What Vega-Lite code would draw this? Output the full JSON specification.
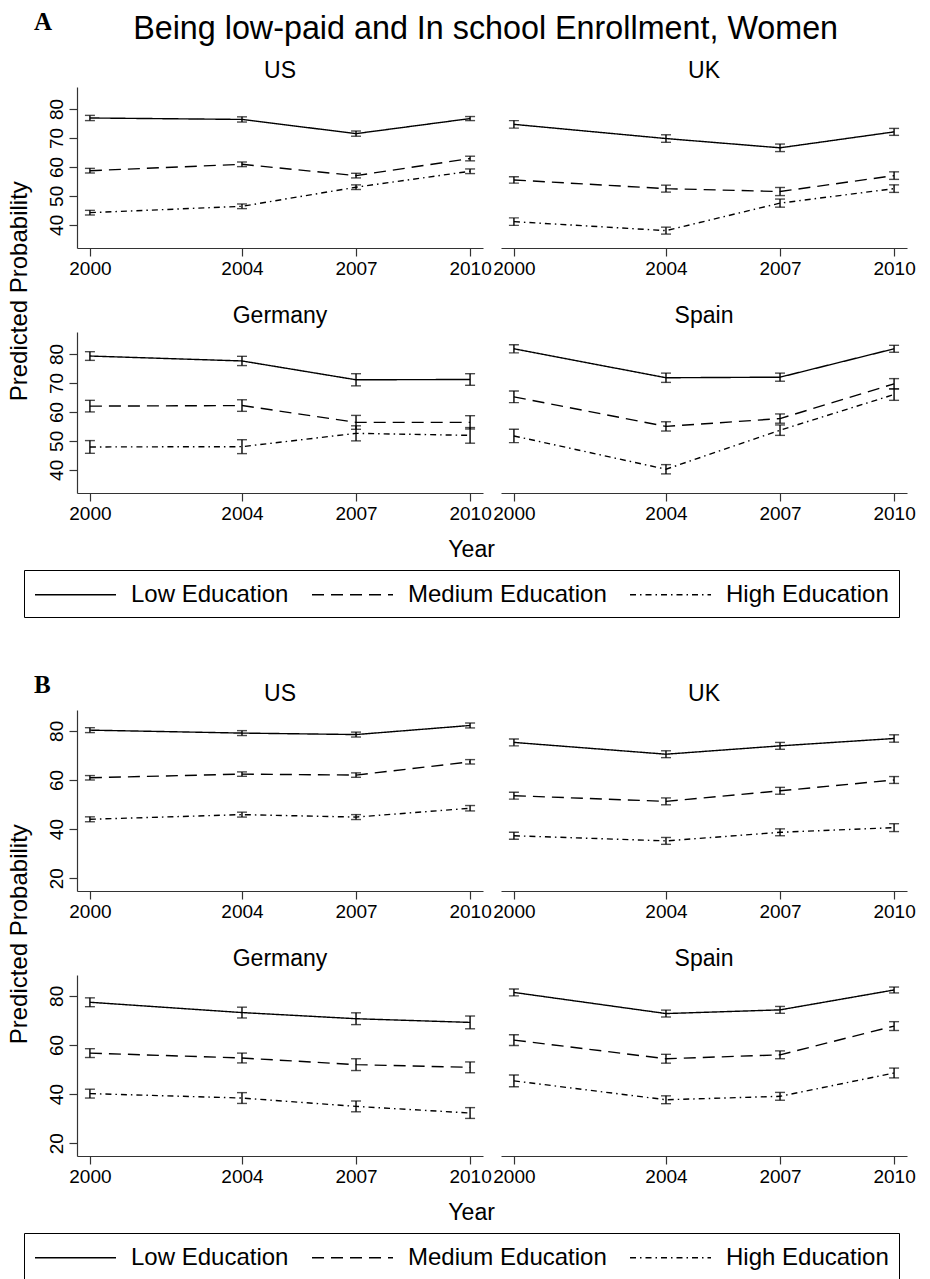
{
"$schema": "https://vega.github.io/schema/vega-lite/v6.json",
"background": "white",
"padding": {"left": 7, "right": 5, "top": 10, "bottom": 0},
"title": {"text": "A", "anchor": "start", "orient": "top", "offset": -22, "dx": 26, "font": "Liberation Serif", "fontSize": 25, "fontWeight": "bold", "color": "black"},
"data": {"name": "d"},
"datasets": {"d": [
{"p":"A","c":"US","e":"Low Education","yr":2000,"v":76.9,"lo":76.0,"hi":77.8},
{"p":"A","c":"US","e":"Low Education","yr":2004,"v":76.4,"lo":75.5,"hi":77.3},
{"p":"A","c":"US","e":"Low Education","yr":2007,"v":71.5,"lo":70.6,"hi":72.4},
{"p":"A","c":"US","e":"Low Education","yr":2010,"v":76.7,"lo":76.0,"hi":77.4},
{"p":"A","c":"US","e":"Medium Education","yr":2000,"v":58.7,"lo":57.9,"hi":59.5},
{"p":"A","c":"US","e":"Medium Education","yr":2004,"v":60.9,"lo":60.1,"hi":61.7},
{"p":"A","c":"US","e":"Medium Education","yr":2007,"v":57.0,"lo":56.2,"hi":57.8},
{"p":"A","c":"US","e":"Medium Education","yr":2010,"v":62.9,"lo":62.1,"hi":63.7},
{"p":"A","c":"US","e":"High Education","yr":2000,"v":44.2,"lo":43.4,"hi":45.0},
{"p":"A","c":"US","e":"High Education","yr":2004,"v":46.4,"lo":45.6,"hi":47.2},
{"p":"A","c":"US","e":"High Education","yr":2007,"v":53.0,"lo":52.2,"hi":53.8},
{"p":"A","c":"US","e":"High Education","yr":2010,"v":58.5,"lo":57.7,"hi":59.3},
{"p":"A","c":"UK","e":"Low Education","yr":2000,"v":74.7,"lo":73.4,"hi":76.0},
{"p":"A","c":"UK","e":"Low Education","yr":2004,"v":69.8,"lo":68.5,"hi":71.1},
{"p":"A","c":"UK","e":"Low Education","yr":2007,"v":66.6,"lo":65.3,"hi":67.9},
{"p":"A","c":"UK","e":"Low Education","yr":2010,"v":72.1,"lo":70.9,"hi":73.3},
{"p":"A","c":"UK","e":"Medium Education","yr":2000,"v":55.5,"lo":54.4,"hi":56.6},
{"p":"A","c":"UK","e":"Medium Education","yr":2004,"v":52.5,"lo":51.3,"hi":53.7},
{"p":"A","c":"UK","e":"Medium Education","yr":2007,"v":51.5,"lo":50.1,"hi":52.9},
{"p":"A","c":"UK","e":"Medium Education","yr":2010,"v":57.0,"lo":55.7,"hi":58.3},
{"p":"A","c":"UK","e":"High Education","yr":2000,"v":41.1,"lo":39.8,"hi":42.4},
{"p":"A","c":"UK","e":"High Education","yr":2004,"v":38.0,"lo":36.8,"hi":39.2},
{"p":"A","c":"UK","e":"High Education","yr":2007,"v":47.5,"lo":46.1,"hi":48.9},
{"p":"A","c":"UK","e":"High Education","yr":2010,"v":52.5,"lo":51.2,"hi":53.8},
{"p":"A","c":"Germany","e":"Low Education","yr":2000,"v":79.3,"lo":77.8,"hi":80.8},
{"p":"A","c":"Germany","e":"Low Education","yr":2004,"v":77.6,"lo":76.0,"hi":79.2},
{"p":"A","c":"Germany","e":"Low Education","yr":2007,"v":71.1,"lo":69.0,"hi":73.2},
{"p":"A","c":"Germany","e":"Low Education","yr":2010,"v":71.2,"lo":69.2,"hi":73.2},
{"p":"A","c":"Germany","e":"Medium Education","yr":2000,"v":62.0,"lo":60.0,"hi":64.0},
{"p":"A","c":"Germany","e":"Medium Education","yr":2004,"v":62.2,"lo":60.2,"hi":64.2},
{"p":"A","c":"Germany","e":"Medium Education","yr":2007,"v":56.4,"lo":54.0,"hi":58.8},
{"p":"A","c":"Germany","e":"Medium Education","yr":2010,"v":56.4,"lo":54.1,"hi":58.7},
{"p":"A","c":"Germany","e":"High Education","yr":2000,"v":47.9,"lo":45.7,"hi":50.1},
{"p":"A","c":"Germany","e":"High Education","yr":2004,"v":48.0,"lo":45.6,"hi":50.4},
{"p":"A","c":"Germany","e":"High Education","yr":2007,"v":52.6,"lo":50.0,"hi":55.2},
{"p":"A","c":"Germany","e":"High Education","yr":2010,"v":51.9,"lo":49.2,"hi":54.6},
{"p":"A","c":"Spain","e":"Low Education","yr":2000,"v":81.8,"lo":80.4,"hi":83.2},
{"p":"A","c":"Spain","e":"Low Education","yr":2004,"v":71.8,"lo":70.2,"hi":73.4},
{"p":"A","c":"Spain","e":"Low Education","yr":2007,"v":72.0,"lo":70.6,"hi":73.4},
{"p":"A","c":"Spain","e":"Low Education","yr":2010,"v":81.8,"lo":80.6,"hi":83.0},
{"p":"A","c":"Spain","e":"Medium Education","yr":2000,"v":65.2,"lo":63.2,"hi":67.2},
{"p":"A","c":"Spain","e":"Medium Education","yr":2004,"v":55.0,"lo":53.4,"hi":56.6},
{"p":"A","c":"Spain","e":"Medium Education","yr":2007,"v":57.7,"lo":56.1,"hi":59.3},
{"p":"A","c":"Spain","e":"Medium Education","yr":2010,"v":69.7,"lo":67.9,"hi":71.5},
{"p":"A","c":"Spain","e":"High Education","yr":2000,"v":51.7,"lo":49.4,"hi":54.0},
{"p":"A","c":"Spain","e":"High Education","yr":2004,"v":40.2,"lo":38.6,"hi":41.8},
{"p":"A","c":"Spain","e":"High Education","yr":2007,"v":53.7,"lo":51.9,"hi":55.5},
{"p":"A","c":"Spain","e":"High Education","yr":2010,"v":66.0,"lo":64.0,"hi":68.0},
{"p":"B","c":"US","e":"Low Education","yr":2000,"v":80.3,"lo":79.3,"hi":81.3},
{"p":"B","c":"US","e":"Low Education","yr":2004,"v":79.1,"lo":78.1,"hi":80.1},
{"p":"B","c":"US","e":"Low Education","yr":2007,"v":78.5,"lo":77.5,"hi":79.5},
{"p":"B","c":"US","e":"Low Education","yr":2010,"v":82.2,"lo":81.2,"hi":83.2},
{"p":"B","c":"US","e":"Medium Education","yr":2000,"v":60.9,"lo":60.0,"hi":61.8},
{"p":"B","c":"US","e":"Medium Education","yr":2004,"v":62.4,"lo":61.5,"hi":63.3},
{"p":"B","c":"US","e":"Medium Education","yr":2007,"v":62.0,"lo":61.1,"hi":62.9},
{"p":"B","c":"US","e":"Medium Education","yr":2010,"v":67.4,"lo":66.5,"hi":68.3},
{"p":"B","c":"US","e":"High Education","yr":2000,"v":44.0,"lo":43.0,"hi":45.0},
{"p":"B","c":"US","e":"High Education","yr":2004,"v":45.9,"lo":44.9,"hi":46.9},
{"p":"B","c":"US","e":"High Education","yr":2007,"v":44.9,"lo":43.9,"hi":45.9},
{"p":"B","c":"US","e":"High Education","yr":2010,"v":48.5,"lo":47.4,"hi":49.6},
{"p":"B","c":"UK","e":"Low Education","yr":2000,"v":75.3,"lo":73.9,"hi":76.7},
{"p":"B","c":"UK","e":"Low Education","yr":2004,"v":70.5,"lo":69.1,"hi":71.9},
{"p":"B","c":"UK","e":"Low Education","yr":2007,"v":73.9,"lo":72.5,"hi":75.3},
{"p":"B","c":"UK","e":"Low Education","yr":2010,"v":76.9,"lo":75.4,"hi":78.4},
{"p":"B","c":"UK","e":"Medium Education","yr":2000,"v":53.6,"lo":52.2,"hi":55.0},
{"p":"B","c":"UK","e":"Medium Education","yr":2004,"v":51.3,"lo":49.9,"hi":52.7},
{"p":"B","c":"UK","e":"Medium Education","yr":2007,"v":55.6,"lo":54.2,"hi":57.0},
{"p":"B","c":"UK","e":"Medium Education","yr":2010,"v":60.0,"lo":58.6,"hi":61.4},
{"p":"B","c":"UK","e":"High Education","yr":2000,"v":37.3,"lo":35.9,"hi":38.7},
{"p":"B","c":"UK","e":"High Education","yr":2004,"v":35.2,"lo":33.8,"hi":36.6},
{"p":"B","c":"UK","e":"High Education","yr":2007,"v":38.7,"lo":37.3,"hi":40.1},
{"p":"B","c":"UK","e":"High Education","yr":2010,"v":40.6,"lo":39.0,"hi":42.2},
{"p":"B","c":"Germany","e":"Low Education","yr":2000,"v":77.4,"lo":75.6,"hi":79.2},
{"p":"B","c":"Germany","e":"Low Education","yr":2004,"v":73.2,"lo":71.0,"hi":75.4},
{"p":"B","c":"Germany","e":"Low Education","yr":2007,"v":70.7,"lo":68.3,"hi":73.1},
{"p":"B","c":"Germany","e":"Low Education","yr":2010,"v":69.2,"lo":66.6,"hi":71.8},
{"p":"B","c":"Germany","e":"Medium Education","yr":2000,"v":56.7,"lo":54.9,"hi":58.5},
{"p":"B","c":"Germany","e":"Medium Education","yr":2004,"v":54.7,"lo":52.7,"hi":56.7},
{"p":"B","c":"Germany","e":"Medium Education","yr":2007,"v":52.0,"lo":49.6,"hi":54.4},
{"p":"B","c":"Germany","e":"Medium Education","yr":2010,"v":50.9,"lo":48.7,"hi":53.1},
{"p":"B","c":"Germany","e":"High Education","yr":2000,"v":40.2,"lo":38.4,"hi":42.0},
{"p":"B","c":"Germany","e":"High Education","yr":2004,"v":38.4,"lo":36.2,"hi":40.6},
{"p":"B","c":"Germany","e":"High Education","yr":2007,"v":35.0,"lo":32.8,"hi":37.2},
{"p":"B","c":"Germany","e":"High Education","yr":2010,"v":32.3,"lo":30.1,"hi":34.5},
{"p":"B","c":"Spain","e":"Low Education","yr":2000,"v":81.4,"lo":80.0,"hi":82.8},
{"p":"B","c":"Spain","e":"Low Education","yr":2004,"v":72.8,"lo":71.4,"hi":74.2},
{"p":"B","c":"Spain","e":"Low Education","yr":2007,"v":74.3,"lo":72.9,"hi":75.7},
{"p":"B","c":"Spain","e":"Low Education","yr":2010,"v":82.4,"lo":81.2,"hi":83.6},
{"p":"B","c":"Spain","e":"Medium Education","yr":2000,"v":62.0,"lo":59.8,"hi":64.2},
{"p":"B","c":"Spain","e":"Medium Education","yr":2004,"v":54.4,"lo":52.6,"hi":56.2},
{"p":"B","c":"Spain","e":"Medium Education","yr":2007,"v":56.0,"lo":54.4,"hi":57.6},
{"p":"B","c":"Spain","e":"Medium Education","yr":2010,"v":67.7,"lo":65.9,"hi":69.5},
{"p":"B","c":"Spain","e":"High Education","yr":2000,"v":45.4,"lo":43.0,"hi":47.8},
{"p":"B","c":"Spain","e":"High Education","yr":2004,"v":37.7,"lo":36.1,"hi":39.3},
{"p":"B","c":"Spain","e":"High Education","yr":2007,"v":39.1,"lo":37.5,"hi":40.7},
{"p":"B","c":"Spain","e":"High Education","yr":2010,"v":48.6,"lo":46.6,"hi":50.6}
]},
"resolve": {"legend": {"strokeDash": "independent"}},
"spacing": 54,
"vconcat": [
 {"title": {"text": "Being low-paid and In school Enrollment, Women", "fontSize": 32.3, "fontWeight": "normal", "anchor": "middle", "offset": 14, "dx": 24, "color": "black"},
  "vconcat": [
   {"title": {"text": "Year", "orient": "bottom", "anchor": "middle", "fontSize": 23, "fontWeight": "normal", "offset": 16, "dx": 10, "color": "black"},
    "vconcat": [
     {"title": {"text": "Predicted Probability", "orient": "left", "anchor": "middle", "fontSize": 24, "fontWeight": "normal", "offset": 15, "color": "black"},
      "columns": 2, "bounds": "flush", "spacing": {"row": 84, "column": 18},
      "concat": [
       {"title": {"text": "US", "fontSize": 23, "fontWeight": "normal", "offset": 4.5, "color": "black"},
        "width": 406, "height": 161,
        "transform": [{"filter": "datum.p == 'A' && datum.c == 'US'"}],
        "encoding": {"x": {"field": "yr", "type": "quantitative", "scale": {"domain": [1999.66, 2010.34], "nice": false, "zero": false}, "axis": {"values": [2000, 2004, 2007, 2010], "format": "d", "title": null}}},
        "layer": [
         {"mark": {"type": "line", "color": "black", "strokeWidth": 1.4},
          "encoding": {"y": {"field": "v", "type": "quantitative", "scale": {"domain": [32, 87.6], "nice": false, "zero": false}, "axis": {"values": [40, 50, 60, 70, 80], "title": null}},
           "strokeDash": {"field": "e", "type": "nominal", "scale": {"domain": ["Low Education", "Medium Education", "High Education"], "range": [[1, 0], [12, 7], [6, 4, 1.5, 4]]}, "legend": {"title": null, "orient": "bottom", "direction": "horizontal", "strokeColor": "black", "padding": 10, "offset": 8, "labelFontSize": 24, "labelColor": "black", "labelLimit": 400, "symbolType": "M-1,0H5", "symbolSize": 729, "symbolStrokeWidth": 1.5, "symbolStrokeColor": "black", "columnPadding": 20, "labelOffset": 68}}}},
         {"mark": {"type": "errorbar", "ticks": {"size": 10}, "color": "black", "thickness": 1.4},
          "encoding": {"y": {"field": "lo", "type": "quantitative", "title": null}, "y2": {"field": "hi"}}}
        ]},
       {"title": {"text": "UK", "fontSize": 23, "fontWeight": "normal", "offset": 4.5, "color": "black"},
        "width": 406, "height": 161,
        "transform": [{"filter": "datum.p == 'A' && datum.c == 'UK'"}],
        "encoding": {"x": {"field": "yr", "type": "quantitative", "scale": {"domain": [1999.66, 2010.34], "nice": false, "zero": false}, "axis": {"values": [2000, 2004, 2007, 2010], "format": "d", "title": null}}},
        "layer": [
         {"mark": {"type": "line", "color": "black", "strokeWidth": 1.4},
          "encoding": {"y": {"field": "v", "type": "quantitative", "scale": {"domain": [32, 87.6], "nice": false, "zero": false}, "axis": null},
           "strokeDash": {"field": "e", "type": "nominal", "scale": {"domain": ["Low Education", "Medium Education", "High Education"], "range": [[1, 0], [12, 7], [6, 4, 1.5, 4]]}}}},
         {"mark": {"type": "errorbar", "ticks": {"size": 10}, "color": "black", "thickness": 1.4},
          "encoding": {"y": {"field": "lo", "type": "quantitative", "title": null, "axis": null}, "y2": {"field": "hi"}}}
        ]},
       {"title": {"text": "Germany", "fontSize": 23, "fontWeight": "normal", "offset": 4.5, "color": "black"},
        "width": 406, "height": 161,
        "transform": [{"filter": "datum.p == 'A' && datum.c == 'Germany'"}],
        "encoding": {"x": {"field": "yr", "type": "quantitative", "scale": {"domain": [1999.66, 2010.34], "nice": false, "zero": false}, "axis": {"values": [2000, 2004, 2007, 2010], "format": "d", "title": null}}},
        "layer": [
         {"mark": {"type": "line", "color": "black", "strokeWidth": 1.4},
          "encoding": {"y": {"field": "v", "type": "quantitative", "scale": {"domain": [32, 87.6], "nice": false, "zero": false}, "axis": {"values": [40, 50, 60, 70, 80], "title": null}},
           "strokeDash": {"field": "e", "type": "nominal", "scale": {"domain": ["Low Education", "Medium Education", "High Education"], "range": [[1, 0], [12, 7], [6, 4, 1.5, 4]]}}}},
         {"mark": {"type": "errorbar", "ticks": {"size": 10}, "color": "black", "thickness": 1.4},
          "encoding": {"y": {"field": "lo", "type": "quantitative", "title": null}, "y2": {"field": "hi"}}}
        ]},
       {"title": {"text": "Spain", "fontSize": 23, "fontWeight": "normal", "offset": 4.5, "color": "black"},
        "width": 406, "height": 161,
        "transform": [{"filter": "datum.p == 'A' && datum.c == 'Spain'"}],
        "encoding": {"x": {"field": "yr", "type": "quantitative", "scale": {"domain": [1999.66, 2010.34], "nice": false, "zero": false}, "axis": {"values": [2000, 2004, 2007, 2010], "format": "d", "title": null}}},
        "layer": [
         {"mark": {"type": "line", "color": "black", "strokeWidth": 1.4},
          "encoding": {"y": {"field": "v", "type": "quantitative", "scale": {"domain": [32, 87.6], "nice": false, "zero": false}, "axis": null},
           "strokeDash": {"field": "e", "type": "nominal", "scale": {"domain": ["Low Education", "Medium Education", "High Education"], "range": [[1, 0], [12, 7], [6, 4, 1.5, 4]]}}}},
         {"mark": {"type": "errorbar", "ticks": {"size": 10}, "color": "black", "thickness": 1.4},
          "encoding": {"y": {"field": "lo", "type": "quantitative", "title": null, "axis": null}, "y2": {"field": "hi"}}}
        ]}
      ]}
    ]}
  ]},
 {"title": {"text": "B", "anchor": "start", "offset": -15, "dx": 26, "font": "Liberation Serif", "fontSize": 25, "fontWeight": "bold", "color": "black"},
  "vconcat": [
   {"title": {"text": "Year", "orient": "bottom", "anchor": "middle", "fontSize": 23, "fontWeight": "normal", "offset": 16, "dx": 10, "color": "black"},
    "vconcat": [
     {"title": {"text": "Predicted Probability", "orient": "left", "anchor": "middle", "fontSize": 24, "fontWeight": "normal", "offset": 15, "color": "black"},
      "columns": 2, "bounds": "flush", "spacing": {"row": 84, "column": 18},
      "concat": [
       {"title": {"text": "US", "fontSize": 23, "fontWeight": "normal", "offset": 4.5, "color": "black"},
        "width": 406, "height": 181,
        "transform": [{"filter": "datum.p == 'B' && datum.c == 'US'"}],
        "encoding": {"x": {"field": "yr", "type": "quantitative", "scale": {"domain": [1999.66, 2010.34], "nice": false, "zero": false}, "axis": {"values": [2000, 2004, 2007, 2010], "format": "d", "title": null}}},
        "layer": [
         {"mark": {"type": "line", "color": "black", "strokeWidth": 1.4},
          "encoding": {"y": {"field": "v", "type": "quantitative", "scale": {"domain": [14.8, 88.5], "nice": false, "zero": false}, "axis": {"values": [20, 40, 60, 80], "title": null}},
           "strokeDash": {"field": "e", "type": "nominal", "scale": {"domain": ["Low Education", "Medium Education", "High Education"], "range": [[1, 0], [12, 7], [6, 4, 1.5, 4]]}, "legend": {"title": null, "orient": "bottom", "direction": "horizontal", "strokeColor": "black", "padding": 10, "offset": 8, "labelFontSize": 24, "labelColor": "black", "labelLimit": 400, "symbolType": "M-1,0H5", "symbolSize": 729, "symbolStrokeWidth": 1.5, "symbolStrokeColor": "black", "columnPadding": 20, "labelOffset": 68}}}},
         {"mark": {"type": "errorbar", "ticks": {"size": 10}, "color": "black", "thickness": 1.4},
          "encoding": {"y": {"field": "lo", "type": "quantitative", "title": null}, "y2": {"field": "hi"}}}
        ]},
       {"title": {"text": "UK", "fontSize": 23, "fontWeight": "normal", "offset": 4.5, "color": "black"},
        "width": 406, "height": 181,
        "transform": [{"filter": "datum.p == 'B' && datum.c == 'UK'"}],
        "encoding": {"x": {"field": "yr", "type": "quantitative", "scale": {"domain": [1999.66, 2010.34], "nice": false, "zero": false}, "axis": {"values": [2000, 2004, 2007, 2010], "format": "d", "title": null}}},
        "layer": [
         {"mark": {"type": "line", "color": "black", "strokeWidth": 1.4},
          "encoding": {"y": {"field": "v", "type": "quantitative", "scale": {"domain": [14.8, 88.5], "nice": false, "zero": false}, "axis": null},
           "strokeDash": {"field": "e", "type": "nominal", "scale": {"domain": ["Low Education", "Medium Education", "High Education"], "range": [[1, 0], [12, 7], [6, 4, 1.5, 4]]}}}},
         {"mark": {"type": "errorbar", "ticks": {"size": 10}, "color": "black", "thickness": 1.4},
          "encoding": {"y": {"field": "lo", "type": "quantitative", "title": null, "axis": null}, "y2": {"field": "hi"}}}
        ]},
       {"title": {"text": "Germany", "fontSize": 23, "fontWeight": "normal", "offset": 4.5, "color": "black"},
        "width": 406, "height": 181,
        "transform": [{"filter": "datum.p == 'B' && datum.c == 'Germany'"}],
        "encoding": {"x": {"field": "yr", "type": "quantitative", "scale": {"domain": [1999.66, 2010.34], "nice": false, "zero": false}, "axis": {"values": [2000, 2004, 2007, 2010], "format": "d", "title": null}}},
        "layer": [
         {"mark": {"type": "line", "color": "black", "strokeWidth": 1.4},
          "encoding": {"y": {"field": "v", "type": "quantitative", "scale": {"domain": [14.8, 88.5], "nice": false, "zero": false}, "axis": {"values": [20, 40, 60, 80], "title": null}},
           "strokeDash": {"field": "e", "type": "nominal", "scale": {"domain": ["Low Education", "Medium Education", "High Education"], "range": [[1, 0], [12, 7], [6, 4, 1.5, 4]]}}}},
         {"mark": {"type": "errorbar", "ticks": {"size": 10}, "color": "black", "thickness": 1.4},
          "encoding": {"y": {"field": "lo", "type": "quantitative", "title": null}, "y2": {"field": "hi"}}}
        ]},
       {"title": {"text": "Spain", "fontSize": 23, "fontWeight": "normal", "offset": 4.5, "color": "black"},
        "width": 406, "height": 181,
        "transform": [{"filter": "datum.p == 'B' && datum.c == 'Spain'"}],
        "encoding": {"x": {"field": "yr", "type": "quantitative", "scale": {"domain": [1999.66, 2010.34], "nice": false, "zero": false}, "axis": {"values": [2000, 2004, 2007, 2010], "format": "d", "title": null}}},
        "layer": [
         {"mark": {"type": "line", "color": "black", "strokeWidth": 1.4},
          "encoding": {"y": {"field": "v", "type": "quantitative", "scale": {"domain": [14.8, 88.5], "nice": false, "zero": false}, "axis": null},
           "strokeDash": {"field": "e", "type": "nominal", "scale": {"domain": ["Low Education", "Medium Education", "High Education"], "range": [[1, 0], [12, 7], [6, 4, 1.5, 4]]}}}},
         {"mark": {"type": "errorbar", "ticks": {"size": 10}, "color": "black", "thickness": 1.4},
          "encoding": {"y": {"field": "lo", "type": "quantitative", "title": null, "axis": null}, "y2": {"field": "hi"}}}
        ]}
      ]}
    ]}
  ]}
],
"config": {
 "view": {"stroke": null},
 "font": "Liberation Sans",
 "title": {"font": "Liberation Sans", "color": "black"},
 "axis": {"domainColor": "#333", "tickColor": "#333", "labelColor": "black", "labelFont": "Liberation Sans", "labelFontSize": 19, "tickSize": 8, "labelPadding": 3, "grid": false, "domainWidth": 1.2, "tickWidth": 1.2, "labelFlush": false},
 "axisY": {"labelAngle": -90, "labelAlign": "center", "labelBaseline": "bottom"},
 "legend": {"labelFont": "Liberation Sans", "layout": {"bottom": {"anchor": "middle"}}}
}
}
